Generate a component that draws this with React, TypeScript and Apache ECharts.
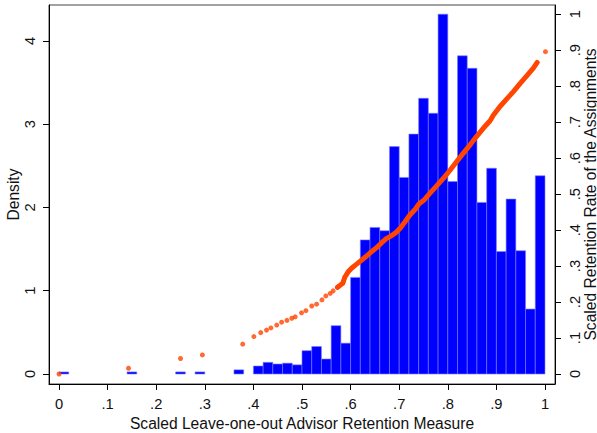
import React, { useEffect, useRef } from "react";
import * as echarts from "echarts";

// Histogram: bin start (x) and density, bin width 0.02
const BIN_WIDTH = 0.02;
const binStarts = [
  0.0, 0.14, 0.24, 0.28, 0.36, 0.4, 0.42, 0.44, 0.46, 0.48, 0.5, 0.52, 0.54, 0.56, 0.58,
  0.6, 0.62, 0.64, 0.66, 0.68, 0.7, 0.72, 0.74, 0.76, 0.78, 0.8, 0.82, 0.84, 0.86, 0.88,
  0.9, 0.92, 0.94, 0.96, 0.98,
];
const densities = [
  0.025, 0.025, 0.025, 0.025, 0.05, 0.096, 0.14, 0.12, 0.13, 0.11, 0.28, 0.33, 0.18, 0.58, 0.37,
  1.16, 1.61, 1.76, 1.72, 2.73, 2.36, 2.88, 3.31, 3.13, 4.32, 2.31, 3.82, 3.67, 2.06, 2.47,
  1.47, 2.1, 1.48, 0.78, 2.38,
];

// Scatter: sparse points (x, scaled retention rate)
const sparseX = [
  0.0, 0.143, 0.25, 0.295, 0.378, 0.401, 0.415, 0.427, 0.436, 0.448, 0.458, 0.469, 0.479, 0.486,
  0.499, 0.508, 0.52, 0.53, 0.541, 0.549, 0.558, 0.564, 0.573, 1.001,
];
const sparseY = [
  0.0, 0.016, 0.043, 0.053, 0.083, 0.104, 0.115, 0.122, 0.128, 0.136, 0.144, 0.149, 0.155, 0.159,
  0.17, 0.176, 0.189, 0.194, 0.206, 0.217, 0.224, 0.231, 0.241, 0.896,
];
// Dense part of the scatter (points so close they form a band)
const denseX = [
  0.573, 0.584, 0.588, 0.595, 0.602, 0.613, 0.623, 0.633, 0.643, 0.654, 0.664, 0.674, 0.684, 0.693,
  0.702, 0.712, 0.722, 0.733, 0.741, 0.75, 0.763, 0.777, 0.791, 0.805, 0.818, 0.832, 0.846, 0.859,
  0.873, 0.887, 0.894, 0.907, 0.921, 0.935, 0.949, 0.962, 0.976, 0.984,
];
const denseY = [
  0.241, 0.252, 0.269, 0.284, 0.294, 0.306, 0.317, 0.328, 0.34, 0.352, 0.365, 0.377, 0.384, 0.393,
  0.405, 0.423, 0.442, 0.458, 0.473, 0.482, 0.502, 0.523, 0.544, 0.567, 0.59, 0.614, 0.637, 0.66,
  0.683, 0.704, 0.72, 0.743, 0.764, 0.785, 0.808, 0.828, 0.85, 0.866,
];

const xTicks = [0, 0.1, 0.2, 0.3, 0.4, 0.5, 0.6, 0.7, 0.8, 0.9, 1];
const leftTicks = [0, 1, 2, 3, 4];
const rightTicks = [0, 0.1, 0.2, 0.3, 0.4, 0.5, 0.6, 0.7, 0.8, 0.9, 1];

const FONT = "'Liberation Sans', Arial, sans-serif";
const TEXT = "#111";
const FS = 14.7;
const FT = 15.6;
const fmtFrac = (v: number) => {
  const r = Math.round(v * 10) / 10;
  if (r === 0) return "0";
  if (r === 1) return "1";
  return "." + Math.round(r * 10);
};

export default function App() {
  const ref = useRef<HTMLDivElement>(null);
  useEffect(() => {
    if (!ref.current) return;
    const chart = echarts.init(ref.current, null, { renderer: "svg" });
    const hist = binStarts.map((s, i) => [s, s + BIN_WIDTH, densities[i]]);
    const option: any = {
      animation: false,
      backgroundColor: "#fff",
      textStyle: { fontFamily: FONT },
      grid: {
        left: 49,
        right: 42,
        top: 5,
        bottom: 49,
        show: true,
        borderColor: "#444",
        borderWidth: 1,
        containLabel: false,
        outerBoundsMode: "none",
      },
      xAxis: {
        type: "value",
        min: -0.0206,
        max: 1.0206,
        name: "Scaled Leave-one-out Advisor Retention Measure",
        nameLocation: "middle",
        nameGap: 31,
        nameMoveOverlap: false,
        nameTextStyle: { fontSize: FT, color: TEXT, fontFamily: FONT },
        axisLine: { show: true, onZero: false, lineStyle: { color: "#000", width: 1 } },
        axisTick: { show: true, length: 6, customValues: xTicks, lineStyle: { color: "#000" } },
        axisLabel: {
          customValues: xTicks,
          formatter: (v: number) => fmtFrac(v),
          fontSize: FS,
          color: TEXT,
          margin: 12,
          fontFamily: FONT,
        },
        splitLine: { show: false },
      },
      yAxis: [
        {
          type: "value",
          position: "left",
          min: -0.12,
          max: 4.43,
          name: "Density",
          nameLocation: "middle",
          nameRotate: 90,
          nameGap: 28,
          nameMoveOverlap: false,
          nameTextStyle: { fontSize: FT, color: TEXT, fontFamily: FONT },
          axisLine: { show: true, onZero: false, lineStyle: { color: "#000", width: 1 } },
          axisTick: { show: true, length: 6, customValues: leftTicks, lineStyle: { color: "#000" } },
          axisLabel: {
            customValues: leftTicks,
            rotate: 90,
            fontSize: FS,
            color: TEXT,
            margin: 12,
            fontFamily: FONT,
            formatter: (v: number) => String(Math.round(v)),
          },
          splitLine: { show: false },
        },
        {
          type: "value",
          position: "right",
          min: -0.0278,
          max: 1.0257,
          name: "Scaled Retention Rate of the Assignments",
          nameLocation: "middle",
          nameRotate: 90,
          nameGap: 27,
          nameMoveOverlap: false,
          nameTextStyle: { fontSize: FT, color: TEXT, fontFamily: FONT },
          axisLine: { show: true, onZero: false, lineStyle: { color: "#000", width: 1 } },
          axisTick: { show: true, length: 6, customValues: rightTicks, lineStyle: { color: "#000" } },
          axisLabel: {
            customValues: rightTicks,
            rotate: 90,
            fontSize: FS,
            color: TEXT,
            margin: 12,
            fontFamily: FONT,
            formatter: (v: number) => fmtFrac(v),
          },
          splitLine: { show: false },
        },
      ],
      series: [
        {
          type: "custom",
          xAxisIndex: 0,
          yAxisIndex: 0,
          data: hist,
          encode: { x: [0, 1], y: 2 },
          renderItem: (params: any, api: any) => {
            const p0 = api.coord([api.value(0), api.value(2)]);
            const p1 = api.coord([api.value(1), 0]);
            return {
              type: "rect",
              shape: { x: p0[0], y: p0[1], width: p1[0] - p0[0], height: p1[1] - p0[1] },
              style: { fill: "#0000ff", stroke: "#7a7aff", lineWidth: 0.6 },
            };
          },
          z: 1,
        },
        {
          type: "line",
          xAxisIndex: 0,
          yAxisIndex: 1,
          data: denseX.map((x, i) => [x, denseY[i]]),
          showSymbol: false,
          symbol: "none",
          lineStyle: { color: "#ff4500", width: 5, cap: "round", join: "round" },
          z: 3,
        },
        {
          type: "scatter",
          xAxisIndex: 0,
          yAxisIndex: 1,
          data: sparseX.map((x, i) => [x, sparseY[i]]),
          symbolSize: 5,
          itemStyle: { color: "#ff4500" },
          z: 4,
        },
      ],
    };
    chart.setOption(option);
    return () => chart.dispose();
  }, []);
  return (
    <div
      ref={ref}
      style={{ position: "absolute", left: 0, top: 0, width: 597, height: 433 }}
    />
  );
}
